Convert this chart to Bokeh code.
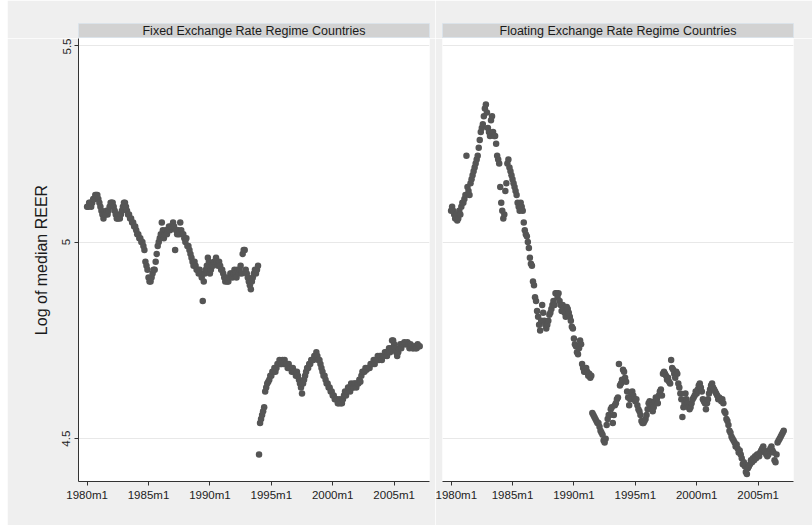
import numpy as np
from bokeh.plotting import figure
from bokeh.layouts import row, column
from bokeh.models import Range1d, FixedTicker, Label, Spacer
from bokeh.embed import file_html
from bokeh.resources import INLINE

# ---------------- data (monthly, 1980m1 .. 2007m2) ----------------
start_year = 1980
panel_titles = ["Fixed Exchange Rate Regime Countries",
                "Floating Exchange Rate Regime Countries"]
y_label = "Log of median REER"
x_ticks = [1980, 1985, 1990, 1995, 2000, 2005]
x_tick_labels = ["1980m1", "1985m1", "1990m1", "1995m1", "2000m1", "2005m1"]
y_ticks = [4.5, 5, 5.5]

fixed_reer = [
    5.09, 5.09, 5.10, 5.10, 5.09, 5.10, 5.11, 5.11, 5.12, 5.12, 5.12, 5.11,
    5.10, 5.09, 5.08, 5.07, 5.06, 5.07, 5.07, 5.08, 5.07, 5.08, 5.09, 5.10,
    5.10, 5.10, 5.09, 5.08, 5.07, 5.06, 5.06, 5.07, 5.06, 5.07, 5.08, 5.09,
    5.10, 5.10, 5.09, 5.08, 5.07, 5.07, 5.06, 5.06, 5.05, 5.05, 5.04, 5.04,
    5.03, 5.02, 5.02, 5.01, 5.01, 5.00, 5.00, 4.99, 4.98, 4.95, 4.94, 4.93,
    4.91, 4.90, 4.90, 4.91, 4.92, 4.93, 4.93, 4.95, 4.97, 4.99, 5.00, 5.01,
    5.02, 5.05, 5.03, 5.01, 5.02, 5.03, 5.02, 5.03, 5.04, 5.03, 5.04, 5.04,
    5.05, 5.04, 4.98, 5.03, 5.02, 5.03, 5.02, 5.05, 5.03, 5.02, 5.02, 5.01,
    5.00, 5.01, 4.99, 4.99, 4.98, 4.97, 4.96, 4.95, 4.94, 4.95, 4.94, 4.93,
    4.93, 4.92, 4.93, 4.92, 4.91, 4.85, 4.90, 4.92, 4.93, 4.94, 4.96, 4.95,
    4.92, 4.93, 4.94, 4.94, 4.95, 4.95, 4.96, 4.95, 4.94, 4.95, 4.94, 4.93,
    4.93, 4.92, 4.91, 4.90, 4.91, 4.90, 4.90, 4.91, 4.92, 4.92, 4.91, 4.92,
    4.93, 4.92, 4.91, 4.93, 4.92, 4.93, 4.94, 4.92, 4.97, 4.98, 4.98, 4.93,
    4.92, 4.91, 4.90, 4.89, 4.88, 4.90, 4.91, 4.92, 4.93, 4.92, 4.93, 4.94,
    4.46, 4.54, 4.55, 4.56, 4.57, 4.58, 4.62, 4.63, 4.64, 4.645, 4.65, 4.66,
    4.66, 4.67, 4.67, 4.68, 4.67, 4.68, 4.69, 4.69, 4.70, 4.69, 4.69, 4.70,
    4.69, 4.70, 4.69, 4.69, 4.68, 4.69, 4.68, 4.68, 4.67, 4.68, 4.67, 4.67,
    4.66, 4.67, 4.66, 4.65, 4.64, 4.63, 4.615, 4.64, 4.65, 4.66, 4.67, 4.68,
    4.68, 4.69, 4.69, 4.70, 4.70, 4.70, 4.71, 4.71, 4.72, 4.71, 4.70, 4.70,
    4.69, 4.68, 4.67, 4.66, 4.66, 4.65, 4.64, 4.64, 4.63, 4.63, 4.62, 4.62,
    4.61, 4.61, 4.60, 4.60, 4.60, 4.59, 4.59, 4.60, 4.59, 4.59, 4.60, 4.61,
    4.62, 4.61, 4.62, 4.63, 4.63, 4.62, 4.64, 4.63, 4.63, 4.64, 4.64, 4.63,
    4.64, 4.64, 4.65, 4.645, 4.66, 4.67, 4.67, 4.67, 4.68, 4.675, 4.68, 4.68,
    4.68, 4.69, 4.69, 4.69, 4.70, 4.69, 4.70, 4.70, 4.71, 4.70, 4.71, 4.71,
    4.70, 4.71, 4.71, 4.72, 4.72, 4.71, 4.72, 4.73, 4.72, 4.73, 4.75, 4.75,
    4.74, 4.73, 4.72, 4.71, 4.72, 4.73, 4.74, 4.73, 4.74, 4.74, 4.745, 4.74,
    4.74, 4.745, 4.74, 4.73, 4.74, 4.735, 4.73, 4.73, 4.735, 4.73, 4.73, 4.74,
    4.735, 4.735,
]

floating_reer = [
    5.08, 5.09, 5.08, 5.07, 5.06, 5.07, 5.055, 5.06, 5.08, 5.07, 5.09, 5.10,
    5.10, 5.11, 5.12, 5.22, 5.14, 5.13, 5.12, 5.15, 5.16, 5.17, 5.18, 5.19,
    5.20, 5.21, 5.22, 5.24, 5.26, 5.28, 5.29, 5.30, 5.32, 5.34, 5.35, 5.33,
    5.29, 5.28, 5.27, 5.31, 5.32, 5.28, 5.27, 5.27, 5.25, 5.22, 5.21, 5.20,
    5.14, 5.10, 5.08, 5.06, 5.07, 5.13, 5.15, 5.20, 5.21, 5.19, 5.18, 5.17,
    5.16, 5.15, 5.14, 5.13, 5.12, 5.10, 5.09, 5.08, 5.10, 5.09, 5.08, 5.05,
    5.03, 5.02, 5.015, 5.00, 4.985, 4.96, 4.945, 4.94, 4.90, 4.89, 4.86, 4.85,
    4.825, 4.81, 4.79, 4.775, 4.80, 4.84, 4.82, 4.80, 4.79, 4.78, 4.79, 4.80,
    4.815, 4.82, 4.83, 4.84, 4.85, 4.84, 4.87, 4.87, 4.86, 4.87, 4.85, 4.84,
    4.825, 4.84, 4.83, 4.82, 4.81, 4.835, 4.83, 4.82, 4.81, 4.80, 4.785, 4.78,
    4.755, 4.74, 4.735, 4.72, 4.715, 4.73, 4.75, 4.74, 4.69, 4.68, 4.67, 4.67,
    4.68, 4.67, 4.66, 4.665, 4.655, 4.66, 4.565, 4.56, 4.555, 4.55, 4.545, 4.54,
    4.54, 4.53, 4.52, 4.515, 4.51, 4.495, 4.49, 4.50, 4.535, 4.55, 4.56, 4.56,
    4.575, 4.58, 4.54, 4.56, 4.585, 4.59, 4.60, 4.605, 4.69, 4.635, 4.64, 4.65,
    4.675, 4.67, 4.655, 4.645, 4.62, 4.605, 4.585, 4.60, 4.615, 4.62, 4.61, 4.60,
    4.595, 4.60, 4.585, 4.575, 4.57, 4.56, 4.545, 4.54, 4.54, 4.545, 4.55, 4.56,
    4.575, 4.59, 4.595, 4.58, 4.585, 4.57, 4.58, 4.595, 4.605, 4.60, 4.59, 4.61,
    4.62, 4.625, 4.61, 4.665, 4.67, 4.665, 4.66, 4.65, 4.655, 4.645, 4.64, 4.70,
    4.68, 4.675, 4.665, 4.655, 4.67, 4.665, 4.64, 4.63, 4.615, 4.60, 4.555, 4.58,
    4.59, 4.615, 4.60, 4.59, 4.58, 4.575, 4.58, 4.59, 4.60, 4.605, 4.61, 4.62,
    4.615, 4.625, 4.635, 4.64, 4.63, 4.62, 4.60, 4.595, 4.59, 4.575, 4.59, 4.60,
    4.615, 4.625, 4.635, 4.64, 4.63, 4.625, 4.62, 4.615, 4.61, 4.60, 4.605, 4.60,
    4.595, 4.60, 4.59, 4.57, 4.565, 4.55, 4.545, 4.535, 4.52, 4.515, 4.505, 4.50,
    4.495, 4.49, 4.48, 4.485, 4.475, 4.465, 4.47, 4.46, 4.45, 4.435, 4.44, 4.43,
    4.415, 4.41, 4.425, 4.43, 4.435, 4.445, 4.44, 4.45, 4.445, 4.455, 4.45, 4.46,
    4.46, 4.455, 4.465, 4.47, 4.475, 4.48, 4.47, 4.465, 4.46, 4.455, 4.46, 4.47,
    4.475, 4.48, 4.47, 4.465, 4.445, 4.44, 4.46, 4.49, 4.495, 4.50, 4.505, 4.51,
    4.515, 4.52,
]

# ---------------- styling ----------------
FONT = "Liberation Sans"
OUTER = "#efefef"
STRIP = "#d2d2d2"
MARK = "#555555"
X0, X1 = 1979.3, 2007.88
Y0, Y1 = 4.391, 5.518
FRAME_W = 351
FRAME_H = 443
TOP = 23
STRIP_H = 15


def make_panel(title, values, border_left, border_right, show_y):
    t = start_year + np.arange(len(values)) / 12.0
    width = border_left + FRAME_W + border_right

    strip = figure(width=width, height=TOP + STRIP_H, x_range=Range1d(0, 1), y_range=Range1d(0, 1),
                   toolbar_location=None, output_backend="svg",
                   x_axis_location=None, y_axis_location=None,
                   min_border_left=border_left, min_border_right=border_right,
                   min_border_top=TOP, min_border_bottom=0)
    strip.border_fill_color = OUTER
    strip.background_fill_color = STRIP
    strip.outline_line_color = "#dbe3ea"
    for g in strip.grid:
        g.visible = False
    strip.add_layout(Label(x=0.5, y=0.5, text=title, text_align="center",
                           text_baseline="middle", text_font=FONT,
                           text_font_size="12.5px", text_color="#1a1a1a"))

    p = figure(width=width, height=FRAME_H + 44,
               x_range=Range1d(X0, X1), y_range=Range1d(Y0, Y1),
               toolbar_location=None, output_backend="svg",
               y_axis_location="left" if show_y else None,
               min_border_left=border_left, min_border_right=border_right,
               min_border_top=0, min_border_bottom=44)
    p.border_fill_color = OUTER
    p.background_fill_color = "white"
    p.outline_line_color = None

    p.scatter(t, values, size=6.5, color=MARK, line_color=None)

    xa = p.xaxis[0]
    xa.ticker = FixedTicker(ticks=x_ticks)
    xa.major_label_overrides = {k: v for k, v in zip(x_ticks, x_tick_labels)}
    xa.minor_tick_line_color = None
    xa.major_tick_out = 4
    xa.major_tick_in = 0
    xa.major_label_standoff = 3
    xa.axis_line_color = "#333333"
    xa.major_tick_line_color = "#333333"
    xa.major_label_text_font = FONT
    xa.major_label_text_font_size = "11.5px"
    xa.major_label_text_color = "#222222"

    for g in p.grid:
        if g.dimension == 0:
            g.visible = False
        else:
            g.ticker = FixedTicker(ticks=y_ticks)
            g.grid_line_color = "#e8e8e8"

    if show_y:
        ya = p.yaxis[0]
        ya.ticker = FixedTicker(ticks=y_ticks)
        ya.major_label_overrides = {4.5: "4.5", 5: "5", 5.5: "5.5"}
        ya.minor_tick_line_color = None
        ya.major_tick_out = 4
        ya.major_tick_in = 0
        ya.major_label_standoff = 4
        ya.major_label_orientation = "vertical"
        ya.axis_line_color = "#333333"
        ya.major_tick_line_color = "#333333"
        ya.major_label_text_font = FONT
        ya.major_label_text_font_size = "11.5px"
        ya.major_label_text_color = "#222222"
        ya.axis_label = y_label
        ya.axis_label_text_font = FONT
        ya.axis_label_text_font_size = "16px"
        ya.axis_label_text_font_style = "normal"
        ya.axis_label_text_color = "#1a1a1a"
        ya.axis_label_standoff = 10

    return column(strip, p, spacing=0)


left = make_panel(panel_titles[0], fixed_reer, 71, 6, True)
right = make_panel(panel_titles[1], floating_reer, 7, 19, False)
layout = row(Spacer(width=7, height=10), left, right, spacing=0)

open("out.html", "w").write(file_html(layout, INLINE))
